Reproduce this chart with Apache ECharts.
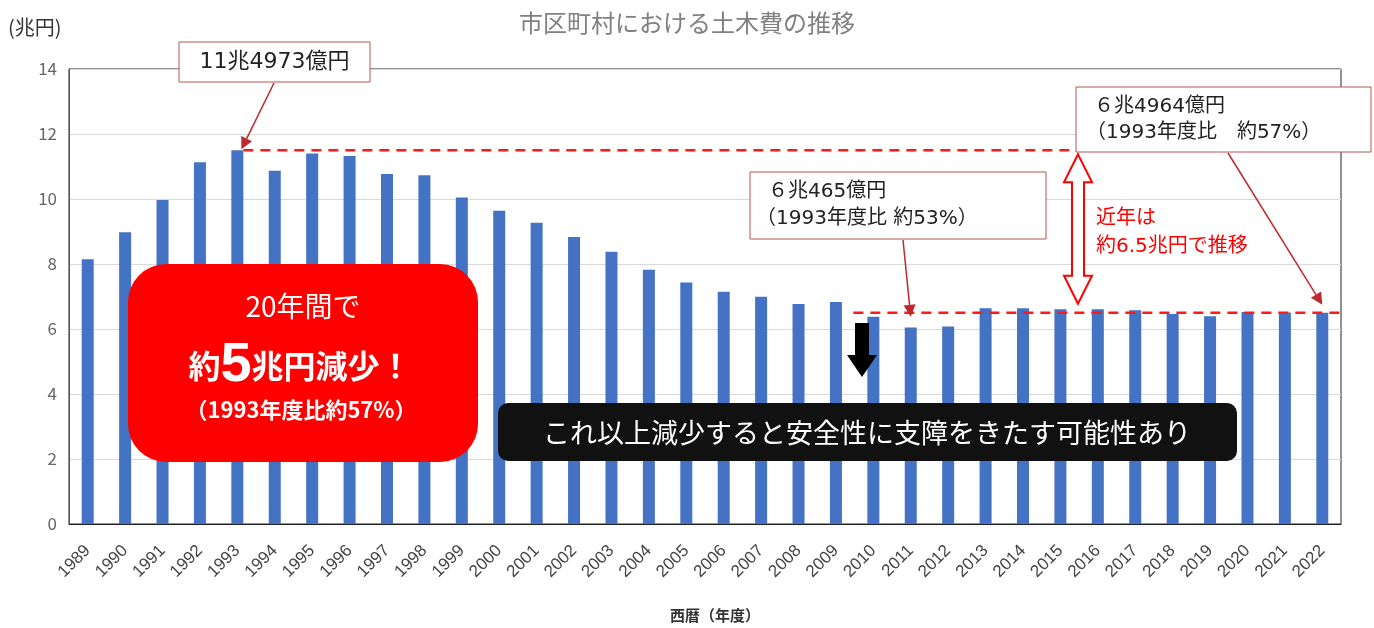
<!DOCTYPE html>
<html><head><meta charset="utf-8">
<script src="https://cdn.jsdelivr.net/npm/echarts@6/dist/echarts.min.js"></script>
<style>html,body{margin:0;padding:0;background:#fff}#c{width:1374px;height:628px}</style>
</head><body><div id="c"></div>
<script>
const years = ['1989','1990','1991','1992','1993','1994','1995','1996','1997','1998','1999','2000','2001','2002','2003','2004','2005','2006','2007','2008','2009','2010','2011','2012','2013','2014','2015','2016','2017','2018','2019','2020','2021','2022'];
const costs = [8.15,8.98,9.97,11.13,11.50,10.87,11.40,11.32,10.77,10.73,10.05,9.64,9.27,8.83,8.38,7.82,7.43,7.15,6.99,6.77,6.83,6.38,6.05,6.08,6.64,6.64,6.61,6.61,6.58,6.46,6.39,6.52,6.51,6.50];
const yTicks = [0,2,4,6,8,10,12,14];
const peakYear = '1993', peakValue = 11.4973;
const lowYear = '2011', lowValue = 6.0465;
const lastYear = '2022', lastValue = 6.4964;
const recentLevel = 6.5;
const lineStartYear = '2010';

const FONT = '"Noto Sans CJK JP", "Noto Sans", sans-serif';
const WFONT = '"DejaVu Sans", "Noto Sans CJK JP", sans-serif';
const chart = echarts.init(document.getElementById('c'));
chart.setOption({
  backgroundColor: '#fff',
  animation: false,
  textStyle: {fontFamily: FONT},
  title: {text: '市区町村における土木費の推移', left: 'center', top: 6,
    textStyle: {fontSize: 24, fontWeight: 'normal', color: '#808080', fontFamily: FONT}},
  grid: {left: 69, right: 33, top: 69, bottom: 104, show: true, borderColor: '#222', borderWidth: 1, backgroundColor: 'transparent'},
  xAxis: {type: 'category', data: years,
    axisLine: {lineStyle: {color: '#222', width: 1}}, axisTick: {show: false},
    axisLabel: {rotate: 45, interval: 0, fontSize: 17, color: '#444', margin: 24, fontFamily: 'Liberation Sans'}},
  yAxis: {type: 'value', min: yTicks[0], max: yTicks[yTicks.length-1], interval: 2,
    axisLine: {show: true, lineStyle: {color: '#555'}},
    axisLabel: {fontSize: 17, color: '#666', margin: 12, formatter: v => yTicks.includes(v) ? String(v) : ''},
    splitLine: {lineStyle: {color: '#d9d9d9'}}},
  series: [{type: 'bar', data: costs, barWidth: 12, itemStyle: {color: '#4472C4'}}]
});

function px(cat, val){ return chart.convertToPixel({seriesIndex: 0}, [cat, val]); }
const gridRight = 1374 - 33;
const pPeak = px(peakYear, peakValue);
const pLow = px(lowYear, lowValue);
const pLast = px(lastYear, lastValue);
const pLevel = px(lineStartYear, recentLevel);
const pTop = px(lastYear, peakValue);

function arrowGraphic(x1, y1, x2, y2, color){
  const ang = Math.atan2(y2 - y1, x2 - x1);
  const L = 12, W = 6;
  const bx = x2 - L*Math.cos(ang), by = y2 - L*Math.sin(ang);
  return [
    {type: 'line', z: 60, shape: {x1, y1, x2: bx, y2: by}, style: {stroke: color, lineWidth: 1.5}},
    {type: 'polygon', z: 60, shape: {points: [[x2, y2], [bx + W*Math.sin(ang), by - W*Math.cos(ang)], [bx - W*Math.sin(ang), by + W*Math.cos(ang)]]}, style: {fill: color}}
  ];
}
const dark = '#c0282d';
const boxStroke = '#b85450';
const dblX = 1078, dblTop = pTop[1] + 4, dblBot = pLevel[1] - 9;
const hw = 14, hl = 28, sw = 6;

const g = [
  {type: 'text', left: 8, top: 17, style: {text: '(兆円)', fontSize: 20, fill: '#333', fontFamily: FONT}},
  {type: 'text', left: 670, top: 608, style: {text: '西暦（年度）', fontSize: 15, fill: '#333', fontWeight: 'bold', fontFamily: FONT}},
  // dashed lines
  {type: 'line', z: 40, shape: {x1: pPeak[0] + 6, y1: pPeak[1], x2: gridRight, y2: pPeak[1]}, style: {stroke: '#ff1a1a', lineWidth: 2.5, lineDash: [10, 7]}},
  {type: 'line', z: 40, shape: {x1: pLevel[0] - 20, y1: pLevel[1], x2: gridRight, y2: pLevel[1]}, style: {stroke: '#ff1a1a', lineWidth: 2.5, lineDash: [10, 7]}},
  // box 1
  {type: 'rect', z: 50, shape: {x: 179, y: 42, width: 191, height: 40}, style: {fill: '#fff', stroke: boxStroke, lineWidth: 1}},
  {type: 'text', z: 51, x: 274.5, y: 62, style: {text: '11兆4973億円', fontSize: 22, fill: '#222', align: 'center', verticalAlign: 'middle', fontFamily: WFONT}},
  ...arrowGraphic(274, 83, pPeak[0] + 4, pPeak[1] - 1, dark),
  // box 2
  {type: 'rect', z: 50, shape: {x: 750, y: 172, width: 296, height: 67}, style: {fill: '#fff', stroke: boxStroke, lineWidth: 1}},
  {type: 'text', z: 51, x: 768, y: 192, style: {text: '６兆465億円', fontSize: 20, fill: '#222', verticalAlign: 'middle', fontFamily: WFONT}},
  {type: 'text', z: 51, x: 756, y: 219, style: {text: '（1993年度比 約53%）', fontSize: 20, fill: '#222', verticalAlign: 'middle', fontFamily: WFONT}},
  ...arrowGraphic(903, 240, pLow[0], pLevel[1] + 4, dark),
  // box 3
  {type: 'rect', z: 50, shape: {x: 1076, y: 87, width: 295, height: 65}, style: {fill: '#fff', stroke: boxStroke, lineWidth: 1}},
  {type: 'text', z: 51, x: 1094, y: 107, style: {text: '６兆4964億円', fontSize: 20, fill: '#222', verticalAlign: 'middle', fontFamily: WFONT}},
  {type: 'text', z: 51, x: 1086, y: 133, style: {text: '（1993年度比　約57%）', fontSize: 20, fill: '#222', verticalAlign: 'middle', fontFamily: WFONT}},
  ...arrowGraphic(1228, 153, pLast[0], pLast[1] - 8, dark),
  // double arrow
  {type: 'polygon', z: 55, shape: {points: [
    [dblX, dblTop], [dblX + hw, dblTop + hl], [dblX + sw, dblTop + hl], [dblX + sw, dblBot - hl], [dblX + hw, dblBot - hl],
    [dblX, dblBot], [dblX - hw, dblBot - hl], [dblX - sw, dblBot - hl], [dblX - sw, dblTop + hl], [dblX - hw, dblTop + hl]]},
    style: {fill: '#fff', stroke: '#ff0000', lineWidth: 2}},
  {type: 'text', z: 55, x: 1096, y: 219, style: {text: '近年は', fontSize: 20, fill: '#ff0000', verticalAlign: 'middle', fontFamily: WFONT}},
  {type: 'text', z: 55, x: 1096, y: 247, style: {text: '約6.5兆円で推移', fontSize: 20, fill: '#ff0000', verticalAlign: 'middle', fontFamily: WFONT}},
  // red rounded box
  {type: 'rect', z: 70, shape: {x: 128, y: 264, width: 350, height: 198, r: 38}, style: {fill: '#ff0000'}},
  {type: 'text', z: 71, x: 303, y: 306, style: {text: '20年間で', fontSize: 28, fill: '#fff', align: 'center', verticalAlign: 'middle', fontFamily: FONT}},
  {type: 'text', z: 71, x: 300, y: 366, style: {
    text: '{a|約}{b|5}{a|兆円減少！}', align: 'center', verticalAlign: 'middle',
    rich: {a: {fontSize: 32, fontWeight: 'bold', fill: '#fff', color: '#fff', fontFamily: FONT},
           b: {fontSize: 56, fontWeight: 'bold', fill: '#fff', color: '#fff', fontFamily: 'Liberation Sans'}}}},
  {type: 'text', z: 71, x: 301, y: 410, style: {text: '（1993年度比約57%）', fontSize: 22, fontWeight: 'bold', fill: '#fff', align: 'center', verticalAlign: 'middle', fontFamily: FONT}},
  // black down arrow
  {type: 'polygon', z: 70, shape: {points: [[855, 323], [869, 323], [869, 355], [877, 355], [862, 377], [847, 355], [855, 355]]}, style: {fill: '#000'}},
  // black rounded box
  {type: 'rect', z: 70, shape: {x: 498, y: 403, width: 739, height: 58, r: 10}, style: {fill: '#111'}},
  {type: 'text', z: 71, x: 867, y: 433, style: {text: 'これ以上減少すると安全性に支障をきたす可能性あり', fontSize: 27, fill: '#fff', align: 'center', verticalAlign: 'middle', fontFamily: FONT}}
];
chart.setOption({graphic: g});
</script></body></html>
